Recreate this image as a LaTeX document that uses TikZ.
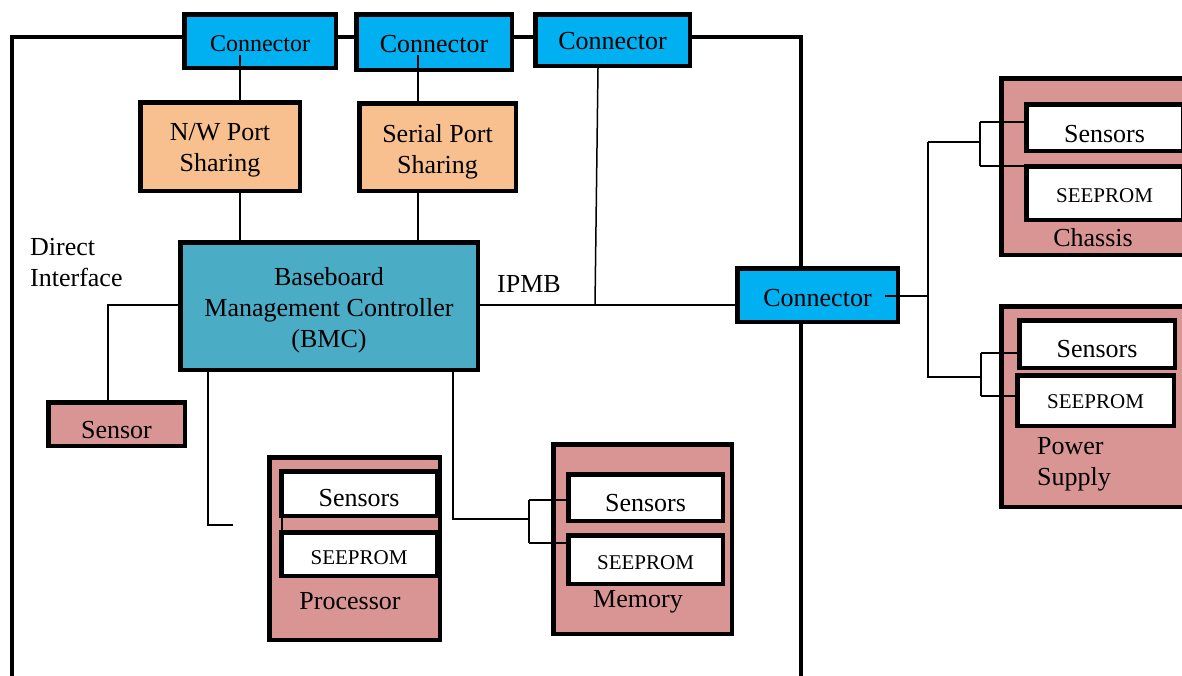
\documentclass[tikz,border=0pt]{standalone}
\usepackage{fontspec}
\setmainfont{Liberation Serif}
\usetikzlibrary{calc}
\definecolor{conncyan}{HTML}{00B0F0}
\definecolor{portpeach}{HTML}{F9C08F}
\definecolor{bmcblue}{HTML}{4BACC6}
\definecolor{unitpink}{HTML}{D99594}
\begin{document}
\begin{tikzpicture}[x=1pt,y=-1pt,
  box/.style={draw=black, line width=4.5pt, inner sep=0pt, align=center,
              font=\fontsize{26}{31}\selectfont},
  conn/.style={box, fill=conncyan},
  port/.style={box, fill=portpeach},
  bmcbox/.style={box, fill=bmcblue},
  unit/.style={box, fill=unitpink},
  part/.style={box, fill=white},
  rom/.style={part, font=\fontsize{21}{25}\selectfont},
  one/.style={text height=#1, text depth=0pt},
  many/.style={text height=#1},
  wire/.style={line width=1.5pt},
  frame/.style={line width=4pt},
  lbl/.style={inner sep=0pt, align=left, font=\fontsize{26}{31}\selectfont}]
\useasboundingbox (0,0) rectangle (1182,675);
\clip (0,0) rectangle (1182,675);

% chassis enclosure
\draw[frame] (12,680) -- (12,37) -- (801,37) -- (801,680);

% external connectors
\node[conn, one=20pt, minimum width=151.5pt, minimum height=53.5pt, font=\fontsize{24}{29}\selectfont] (c1) at (260,41) {Connector};
\node[conn, one=21pt, minimum width=155.5pt, minimum height=55.5pt] (c2) at (434,42) {Connector};
\node[conn, one=19pt, minimum width=154.5pt, minimum height=51.5pt] (c3) at (612.5,40) {Connector};

% port sharing blocks
\node[port, many=56.5pt, minimum width=159.5pt, minimum height=88.5pt] (nw) at (220,146.5) {N/W Port\\Sharing};
\node[port, many=59pt, minimum width=156.5pt, minimum height=87.5pt] (sp) at (437.5,147) {Serial Port\\Sharing};

% BMC
\node[bmcbox, many=88pt, minimum width=297.5pt, minimum height=127.5pt] (bmc) at (329,306)
  {Baseboard\\Management Controller\\(BMC)};

% local sensor
\node[unit, one=29pt, minimum width=136.5pt, minimum height=43.5pt] (sensor) at (116.5,424) {Sensor};

% processor
\node[unit, minimum width=170.5pt, minimum height=182.5pt] (proc) at (354.5,548.5) {};
\node[part, one=25pt, minimum width=155.5pt, minimum height=44.5pt] (procsens) at (359,493.5) {Sensors};
\node[rom, one=20pt, minimum width=155.5pt, minimum height=43.5pt] (procrom) at (359,554) {SEEPROM};
\node[lbl] (proclbl) at (350,601) {Processor};

% memory
\node[unit, minimum width=178.5pt, minimum height=189.5pt] (mem) at (642.5,539) {};
\node[part, one=27pt, minimum width=154.5pt, minimum height=46.5pt] (memsens) at (645.5,497.5) {Sensors};
\node[rom, one=20pt, minimum width=154.5pt, minimum height=48.5pt] (memrom) at (645.5,559.5) {SEEPROM};
\node[lbl] (memlbl) at (638,602) {Memory};

% side connector
\node[conn, one=23pt, minimum width=160.5pt, minimum height=53.5pt] (rconn) at (817.5,295) {Connector};

% chassis unit
\node[unit, minimum width=196.5pt, minimum height=176.5pt] (chassis) at (1099.5,166.5) {};
\node[part, one=29pt, minimum width=156.5pt, minimum height=46.5pt] (chsens) at (1104.5,127.5) {Sensors};
\node[rom, one=18pt, minimum width=156.5pt, minimum height=53.5pt] (chrom) at (1104.5,193) {SEEPROM};
\node[lbl] (chlbl) at (1093,238) {Chassis};

% power supply unit
\node[unit, minimum width=196.5pt, minimum height=200.5pt] (ps) at (1099.5,406.5) {};
\node[part, one=27pt, minimum width=155.5pt, minimum height=47.5pt] (pssens) at (1097,344) {Sensors};
\node[rom, one=16pt, minimum width=156.5pt, minimum height=50.5pt] (psrom) at (1095.5,400.5) {SEEPROM};
\node[lbl, anchor=north west] (pslbl) at (1037,437) {Power\\Supply};

% free labels
\node[lbl, anchor=north west] (direct) at (30,238) {Direct\\Interface};
\node[lbl, anchor=west] (ipmblbl) at (497,284) {IPMB};

% wiring: connectors to port sharing to BMC
\coordinate (p1) at (240,55);
\coordinate (p2) at (418,55);
\draw[wire] (p1) -- (p1 |- nw.north);
\draw[wire] (p1 |- nw.south) -- (p1 |- bmc.north);
\draw[wire] (p2) -- (p2 |- sp.north);
\draw[wire] (p2 |- sp.south) -- (p2 |- bmc.north);

% IPMB bus
\coordinate (ipmb) at (595,305);
\draw[wire] (ipmb -| bmc.east) -- (ipmb -| rconn.west);
\draw[wire] (598,68) -- (ipmb);

% direct sensor
\coordinate (ds) at (108,305);
\draw[wire] (ds -| bmc.west) -- (ds) -- (ds |- sensor.north);

% processor link
\coordinate (pr) at (208,525);
\draw[wire] (pr |- bmc.south) -- (pr) -- (233,525);
\draw[wire] (282,518) -- (282,530);

% memory link
\coordinate (mb) at (529,519);
\draw[wire] (453,368) -- (453,519) -- (mb);
\draw[wire] (529,500) -- (529,543);
\draw[wire] (529,500) -- (529,500 -| memsens.west);
\draw[wire] (529,543) -- (529,543 -| memrom.west);

% side connector fan-out
\coordinate (fan) at (928,296);
\draw[wire] (885,296) -- (fan);
\draw[wire] (928,142) -- (928,378);
\draw[wire] (928,142) -- (980,142);
\draw[wire] (980,122) -- (980,166);
\draw[wire] (980,122) -- (980,122 -| chsens.west);
\draw[wire] (980,166) -- (980,166 -| chrom.west);
\draw[wire] (928,377) -- (981,377);
\draw[wire] (981,353) -- (981,396);
\draw[wire] (981,353) -- (981,353 -| pssens.west);
\draw[wire] (981,396) -- (981,396 -| psrom.west);
\end{tikzpicture}
\end{document}
